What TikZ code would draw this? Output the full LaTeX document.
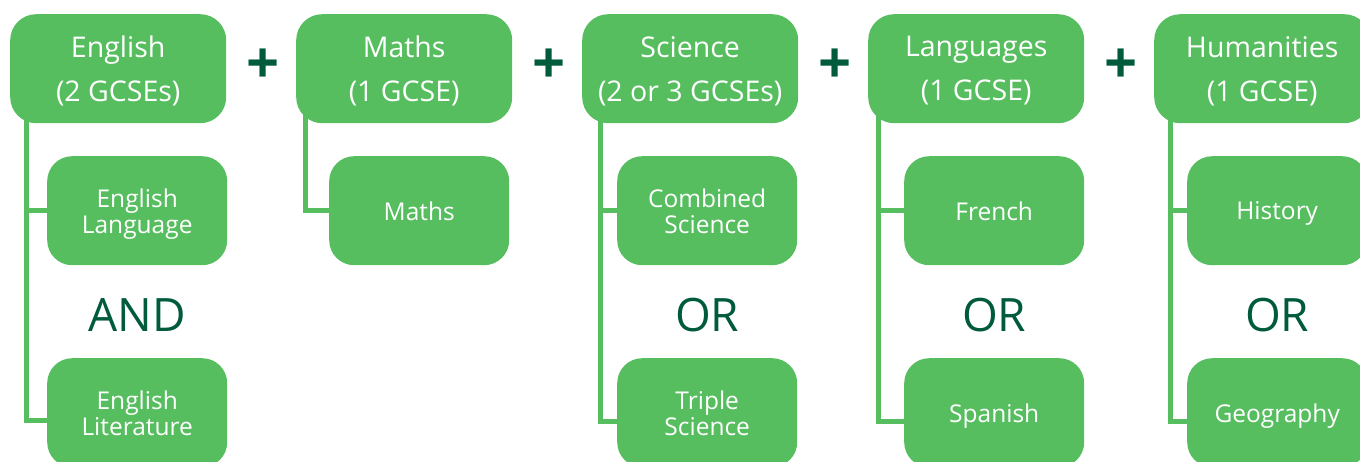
\documentclass[tikz,border=0pt]{standalone}
\usepackage{fontspec}
\setmainfont{Open Sans}
\usetikzlibrary{calc}
\definecolor{boxgreen}{HTML}{57BE60}
\definecolor{darkgreen}{HTML}{005A3C}
\begin{document}
\begin{tikzpicture}[x=1pt,y=-1pt,
  topbox/.style={fill=boxgreen, rounded corners=26pt, minimum width=216pt, minimum height=109pt,
    text=white, font=\fontsize{28.5}{44}\selectfont, align=center, inner sep=0pt, text depth=0pt,
    anchor=north west},
  subbox/.style={fill=boxgreen, rounded corners=25pt, minimum width=180pt, minimum height=109pt,
    text=white, font=\fontsize{24.5}{26}\selectfont, align=center, inner sep=0pt, text depth=0pt,
    anchor=north west},
  link/.style={draw=boxgreen, line width=5pt},
  joiner/.style={text=darkgreen, font=\fontsize{46}{46}\selectfont, inner sep=0pt},
  plussign/.style={text=darkgreen, font=\fontsize{58}{58}\selectfont\bfseries, inner sep=0pt}]
\useasboundingbox (0,0) rectangle (1360,461);
\clip (0,0) rectangle (1360,461);

% top boxes
\node[topbox] (eng) at (10,14) {English\\(2 GCSEs)};
\node[topbox] (mat) at (296,14) {Maths\\(1 GCSE)};
\node[topbox] (sci) at (582,14) {Science\\(2 or 3 GCSEs)};
\node[topbox] (lan) at (868,14) {Languages\\(1 GCSE)};
\node[topbox] (hum) at (1154,14) {Humanities\\(1 GCSE)};

% plus signs
\node[plussign] (p1) at (263,66) {+};
\node[plussign] (p2) at (549,66) {+};
\node[plussign] (p3) at (835,66) {+};
\node[plussign] (p4) at (1121,66) {+};

% sub boxes
\node[subbox] (englang) at (47,156) {English\\Language};
\node[subbox] (englit) at (47,358) {English\\Literature};
\node[subbox] (math) at (329,156) {Maths};
\node[subbox] (comb) at (617,156) {Combined\\Science};
\node[subbox] (trip) at (617,358) {Triple\\Science};
\node[subbox] (fre) at (904,156) {French};
\node[subbox] (spa) at (904,358) {Spanish};
\node[subbox] (his) at (1187,156) {History};
\node[subbox] (geo) at (1187,358) {Geography};

% joiners
\node[joiner] (and) at ($(englang.south)!0.5!(englit.north)+(0,3)$) {AND};
\node[joiner] (or1) at ($(comb.south)!0.5!(trip.north)+(0,3)$) {OR};
\node[joiner] (or2) at ($(fre.south)!0.5!(spa.north)+(0,3)$) {OR};
\node[joiner] (or3) at ($(his.south)!0.5!(geo.north)+(0,3)$) {OR};

% connectors
\draw[link] ([xshift=16pt,yshift=12pt]eng.south west) |- ([xshift=1pt]englang.west);
\draw[link] ([xshift=16pt,yshift=12pt]eng.south west) |- ([xshift=1pt,yshift=-8pt]englit.west);
\draw[link] ([xshift=9pt,yshift=12pt]mat.south west) |- ([xshift=1pt]math.west);
\draw[link] ([xshift=18pt,yshift=12pt]sci.south west) |- ([xshift=1pt]comb.west);
\draw[link] ([xshift=18pt,yshift=12pt]sci.south west) |- ([xshift=1pt,yshift=-9pt]trip.west);
\draw[link] ([xshift=10pt,yshift=12pt]lan.south west) |- ([xshift=1pt]fre.west);
\draw[link] ([xshift=10pt,yshift=12pt]lan.south west) |- ([xshift=1pt,yshift=-9pt]spa.west);
\draw[link] ([xshift=16pt,yshift=12pt]hum.south west) |- ([xshift=1pt]his.west);
\draw[link] ([xshift=16pt,yshift=12pt]hum.south west) |- ([xshift=1pt,yshift=-9pt]geo.west);
\end{tikzpicture}
\end{document}
